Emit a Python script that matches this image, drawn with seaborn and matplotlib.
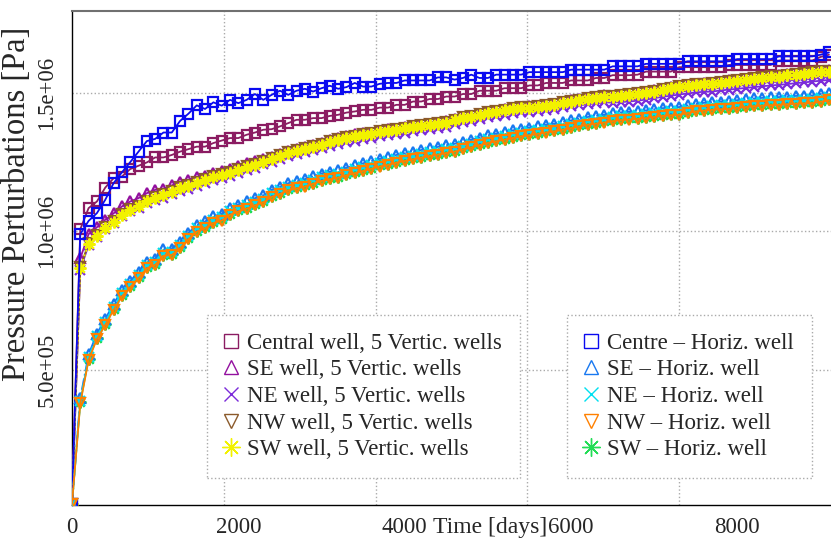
import numpy as np
import pandas as pd
import seaborn as sns
from matplotlib import pyplot as plt
from matplotlib.lines import Line2D

# time axis: one sample every 100 days
days = np.arange(0, 9101, 100)

# pressure perturbations, in kPa
central_vert = [15, 1008, 1084, 1108, 1158, 1192, 1198, 1225, 1237, 1249,
                1267, 1267, 1276, 1288, 1297, 1306, 1306, 1319, 1328, 1337,
                1337, 1349, 1357, 1367, 1369, 1379, 1391, 1403, 1403, 1409,
                1409, 1417, 1421, 1429, 1433, 1439, 1439, 1447, 1447, 1457,
                1457, 1469, 1469, 1478, 1478, 1487, 1487, 1496, 1496, 1508,
                1508, 1508, 1517, 1517, 1517, 1527, 1527, 1536, 1536, 1536,
                1545, 1545, 1545, 1554, 1554, 1564, 1564, 1564, 1566, 1577,
                1577, 1577, 1577, 1593, 1593, 1593, 1593, 1593, 1593, 1601,
                1601, 1601, 1601, 1601, 1601, 1617, 1617, 1617, 1617, 1617,
                1630, 1638]
se_vert = [15, 903, 990, 1015, 1042, 1065, 1090, 1108, 1120, 1138,
           1150, 1154, 1166, 1178, 1186, 1196, 1201, 1211, 1219, 1225,
           1237, 1247, 1255, 1260, 1270, 1280, 1290, 1299, 1306, 1313,
           1320, 1330, 1338, 1346, 1351, 1355, 1357, 1364, 1368, 1371,
           1376, 1381, 1385, 1389, 1393, 1397, 1405, 1413, 1418, 1425,
           1431, 1436, 1441, 1445, 1449, 1451, 1453, 1457, 1461, 1467,
           1473, 1477, 1482, 1486, 1491, 1490, 1493, 1496, 1499, 1503,
           1509, 1515, 1520, 1525, 1529, 1533, 1535, 1537, 1541, 1545,
           1548, 1551, 1555, 1558, 1561, 1563, 1567, 1570, 1573, 1576,
           1579, 1581]
ne_vert = [15, 862, 950, 980, 1007, 1030, 1055, 1073, 1085, 1103,
           1115, 1122, 1134, 1146, 1154, 1164, 1176, 1186, 1194, 1200,
           1212, 1222, 1230, 1242, 1252, 1262, 1272, 1281, 1288, 1295,
           1302, 1307, 1315, 1323, 1328, 1332, 1338, 1345, 1349, 1352,
           1357, 1362, 1366, 1370, 1374, 1378, 1386, 1394, 1399, 1406,
           1412, 1417, 1422, 1426, 1430, 1432, 1434, 1438, 1442, 1448,
           1452, 1455, 1459, 1462, 1466, 1465, 1467, 1469, 1472, 1476,
           1481, 1486, 1490, 1494, 1498, 1502, 1504, 1505, 1509, 1512,
           1515, 1518, 1521, 1524, 1527, 1529, 1532, 1535, 1538, 1541,
           1544, 1547]
nw_vert = [15, 870, 958, 988, 1015, 1038, 1063, 1081, 1093, 1111,
           1123, 1135, 1147, 1159, 1167, 1177, 1189, 1199, 1207, 1213,
           1225, 1235, 1243, 1255, 1265, 1275, 1285, 1294, 1301, 1308,
           1315, 1325, 1333, 1341, 1346, 1350, 1356, 1363, 1367, 1370,
           1375, 1380, 1384, 1388, 1392, 1396, 1404, 1412, 1417, 1424,
           1430, 1435, 1440, 1444, 1448, 1450, 1452, 1456, 1460, 1466,
           1472, 1476, 1481, 1485, 1490, 1489, 1492, 1495, 1498, 1502,
           1508, 1514, 1519, 1524, 1528, 1532, 1534, 1536, 1540, 1544,
           1547, 1550, 1554, 1557, 1560, 1562, 1566, 1569, 1572, 1575,
           1578, 1580]
sw_vert = [15, 867, 955, 985, 1012, 1035, 1060, 1078, 1090, 1108,
           1120, 1132, 1144, 1156, 1164, 1174, 1186, 1196, 1204, 1210,
           1222, 1232, 1240, 1252, 1262, 1272, 1282, 1291, 1298, 1305,
           1312, 1322, 1330, 1338, 1343, 1347, 1353, 1360, 1364, 1367,
           1372, 1377, 1381, 1385, 1389, 1393, 1401, 1409, 1414, 1421,
           1427, 1432, 1437, 1441, 1445, 1447, 1449, 1453, 1457, 1463,
           1469, 1473, 1478, 1482, 1487, 1486, 1489, 1492, 1495, 1499,
           1505, 1511, 1516, 1521, 1525, 1529, 1531, 1533, 1537, 1541,
           1544, 1547, 1551, 1554, 1557, 1559, 1563, 1566, 1569, 1572,
           1575, 1577]
centre_hor = [15, 990, 1038, 1066, 1114, 1174, 1213, 1250, 1288, 1326,
              1334, 1357, 1357, 1399, 1425, 1455, 1442, 1466, 1454, 1475,
              1463, 1475, 1496, 1475, 1493, 1508, 1493, 1508, 1515, 1505,
              1517, 1526, 1515, 1521, 1536, 1523, 1523, 1533, 1536, 1536,
              1545, 1545, 1545, 1545, 1556, 1556, 1548, 1554, 1566, 1554,
              1554, 1566, 1566, 1566, 1566, 1575, 1575, 1575, 1575, 1575,
              1584, 1584, 1584, 1584, 1584, 1596, 1596, 1596, 1596, 1605,
              1605, 1605, 1605, 1605, 1614, 1614, 1614, 1614, 1614, 1614,
              1622, 1622, 1622, 1622, 1622, 1632, 1632, 1632, 1632, 1632,
              1638, 1646]
se_hor = [15, 398, 556, 631, 684, 738, 787, 820, 853, 889,
          902, 935, 938, 962, 995, 1022, 1036, 1054, 1064, 1085,
          1097, 1108, 1120, 1131, 1150, 1161, 1174, 1182, 1189, 1199,
          1209, 1215, 1222, 1230, 1238, 1246, 1254, 1262, 1268, 1276,
          1282, 1288, 1294, 1300, 1305, 1311, 1316, 1324, 1331, 1339,
          1347, 1353, 1359, 1365, 1371, 1375, 1380, 1385, 1389, 1395,
          1401, 1407, 1413, 1417, 1421, 1426, 1430, 1432, 1434, 1437,
          1441, 1445, 1447, 1449, 1455, 1461, 1464, 1467, 1469, 1470,
          1474, 1477, 1480, 1482, 1484, 1485, 1487, 1489, 1490, 1491,
          1496, 1501]
ne_hor = [15, 388, 546, 621, 673, 727, 776, 809, 842, 878,
          891, 923, 927, 951, 984, 1011, 1024, 1042, 1052, 1073,
          1085, 1095, 1107, 1118, 1138, 1148, 1161, 1168, 1176, 1186,
          1196, 1202, 1208, 1216, 1224, 1232, 1240, 1248, 1254, 1262,
          1268, 1274, 1280, 1286, 1291, 1297, 1302, 1310, 1317, 1325,
          1333, 1339, 1345, 1351, 1357, 1361, 1366, 1371, 1375, 1381,
          1387, 1393, 1399, 1403, 1407, 1412, 1416, 1418, 1420, 1423,
          1427, 1431, 1433, 1435, 1441, 1447, 1450, 1453, 1455, 1456,
          1460, 1463, 1466, 1468, 1470, 1471, 1473, 1475, 1476, 1477,
          1482, 1487]
nw_hor = [15, 379, 536, 611, 662, 716, 765, 798, 831, 867,
          879, 912, 915, 939, 972, 999, 1012, 1030, 1039, 1060,
          1072, 1082, 1094, 1105, 1125, 1135, 1148, 1155, 1162, 1172,
          1182, 1188, 1194, 1202, 1210, 1218, 1226, 1234, 1240, 1248,
          1254, 1260, 1266, 1272, 1277, 1283, 1288, 1296, 1303, 1311,
          1319, 1325, 1331, 1337, 1343, 1347, 1352, 1357, 1361, 1367,
          1373, 1379, 1385, 1389, 1393, 1398, 1402, 1404, 1406, 1409,
          1413, 1417, 1419, 1421, 1427, 1433, 1436, 1439, 1441, 1442,
          1446, 1449, 1452, 1454, 1456, 1457, 1459, 1461, 1462, 1463,
          1468, 1473]
sw_hor = [15, 383, 540, 615, 666, 720, 769, 802, 835, 871,
          883, 916, 919, 943, 976, 1003, 1016, 1034, 1043, 1064,
          1076, 1086, 1098, 1109, 1129, 1139, 1152, 1159, 1166, 1176,
          1186, 1192, 1198, 1206, 1214, 1222, 1230, 1238, 1244, 1252,
          1258, 1264, 1270, 1276, 1281, 1287, 1292, 1300, 1307, 1315,
          1323, 1329, 1335, 1341, 1347, 1351, 1356, 1361, 1365, 1371,
          1377, 1383, 1389, 1393, 1397, 1402, 1406, 1408, 1410, 1413,
          1417, 1421, 1423, 1425, 1431, 1437, 1440, 1443, 1445, 1446,
          1450, 1453, 1456, 1458, 1460, 1461, 1463, 1465, 1466, 1467,
          1472, 1477]

labels_vert = ["Central well, 5 Vertic. wells", "SE well, 5 Vertic. wells",
               "NE well, 5 Vertic. wells", "NW well, 5 Vertic. wells",
               "SW well, 5 Vertic. wells"]
labels_hor = ["Centre \u2013 Horiz. well", "SE \u2013 Horiz. well",
              "NE \u2013 Horiz. well", "NW \u2013 Horiz. well",
              "SW \u2013 Horiz. well"]

sns.set_style("white")
plt.rcParams['font.family'] = ['Liberation Serif', 'DejaVu Serif']

AST = (8, 2, 0)  # eight-armed asterisk

# (values, label, colour, marker, linestyle, zorder)
series = [
    (sw_hor, labels_hor[4], "#22DD55", AST, "-", 2),
    (central_vert, labels_vert[0], "#8B1C62", "s", "-", 3),
    (se_vert, labels_vert[1], "#93109F", "^", "-", 3),
    (ne_vert, labels_vert[2], "#7B2BD9", "x", "-", 3),
    (nw_vert, labels_vert[3], "#8B5A2B", "v", "-", 3),
    (sw_vert, labels_vert[4], "#F2F200", AST, ":", 3),
    (centre_hor, labels_hor[0], "#0A0AF0", "s", "-", 3),
    (se_hor, labels_hor[1], "#1878F0", "^", "-.", 3),
    (ne_hor, labels_hor[2], "#00E0F0", "x", "--", 3),
    (nw_hor, labels_hor[3], "#FF8000", "v", "-", 3),
]

fig = plt.figure(figsize=(8.31, 5.39), dpi=100)
ax = fig.add_axes([0.0866, 0.0631, 0.9134, 0.9171])

handles = {}
for vals, lab, col, mk, ls, z in series:
    df = pd.DataFrame({"Time": days, "Pressure": np.array(vals) * 1000.0})
    sns.lineplot(data=df, x="Time", y="Pressure", ax=ax, color=col, marker=mk,
                 ms=6.5 if mk != AST else 8.5, mfc="none", mec=col, mew=1.6,
                 linestyle=ls, lw=1.3, zorder=z)
    handles[lab] = Line2D([], [], color=col, marker=mk, ls="none", mfc="none",
                          mec=col, mew=1.0, ms=10 if mk != AST else 13)

ax.set_xlim(0, 9125)
ax.set_ylim(1.2e4, 1.797e6)
ax.set_xticks([0, 2000, 4000, 6000, 8000])
ax.set_xticks([1825, 3650, 5475, 7300], minor=True)
ax.set_xticklabels(["0", "2000", "4000", "6000", "8000"], fontsize=16.5)
ax.set_yticks([5e5, 1e6, 1.5e6])
ax.set_yticklabels(["5.0e+05", "1.0e+06", "1.5e+06"], rotation=90,
                   va="center", fontsize=16.5)
ax.tick_params(axis="both", which="major", direction="out", length=8,
               width=1, color="#333333")
ax.tick_params(axis="x", which="major", pad=0.5)
ax.tick_params(axis="x", which="minor", length=0)
ax.tick_params(axis="y", pad=2.5)
ax.grid(False)
ax.grid(True, which="minor", axis="x", color="#aaaaaa", ls=":", lw=1)
ax.grid(True, which="major", axis="y", color="#aaaaaa", ls=":", lw=1)

for s in ["left", "bottom"]:
    ax.spines[s].set_color("black")
    ax.spines[s].set_linewidth(1)
ax.spines["top"].set_color("#707070")
ax.spines["top"].set_linewidth(1.5)
ax.spines["right"].set_visible(False)

ax.set_xlabel("Time [days]", fontsize=17)
ax.xaxis.label.set_va("center")
ax.xaxis.set_label_coords(0.551, -0.045)
ax.set_ylabel("Pressure Perturbations [Pa]", fontsize=23.5)
ax.yaxis.set_label_coords(-0.053, 0.609)

leg_kw = dict(loc="upper left", bbox_transform=fig.transFigure, fontsize=16.5,
              frameon=True, fancybox=False, borderpad=0.78, labelspacing=0.24,
              handlelength=0.5, handletextpad=0.48, borderaxespad=0)
leg1 = ax.legend([handles[l] for l in labels_vert], labels_vert,
                 bbox_to_anchor=(207 / 831, 1 - 315 / 539), **leg_kw)
ax.add_artist(leg1)
leg2 = ax.legend([handles[l] for l in labels_hor], labels_hor,
                 bbox_to_anchor=(567 / 831, 1 - 315 / 539), **leg_kw)
for lg in (leg1, leg2):
    fr = lg.get_frame()
    fr.set_linestyle(":")
    fr.set_edgecolor("#aaaaaa")
    fr.set_linewidth(1)
    fr.set_facecolor("white")
    fr.set_alpha(1)

plt.savefig("out.png", dpi=100)
